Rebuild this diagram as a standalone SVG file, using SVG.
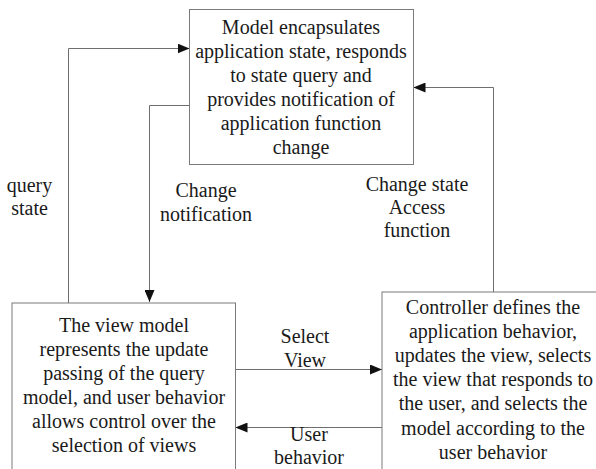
<svg xmlns="http://www.w3.org/2000/svg" width="596" height="469" viewBox="0 0 596 469" font-family="'Liberation Serif', 'Times New Roman', serif" font-size="20">
<style>
.box{fill:#fff;stroke:#7a7a7a;stroke-width:1}
.ln{fill:none;stroke:#6e6e6e;stroke-width:1}
.tx{fill:#1a1a1a;text-anchor:middle}
</style>
<defs>
<marker id="ah" viewBox="0 0 12 10" refX="12" refY="5" markerWidth="12" markerHeight="10" markerUnits="userSpaceOnUse" orient="auto">
<path d="M0,0 L12,5 L0,10 Z" fill="#111"/>
</marker>
</defs>
<rect width="596" height="469" fill="#fff"/>
<g id="connectors">
<path class="ln" d="M68.5,303 V48.5 H189.5" marker-end="url(#ah)"/>
<path class="ln" d="M189.5,105.5 H149.5 V302" marker-end="url(#ah)"/>
<path class="ln" d="M493.5,292 V87.5 H413.5" marker-end="url(#ah)"/>
<path class="ln" d="M235.5,369.5 H382" marker-end="url(#ah)"/>
<path class="ln" d="M382,427.5 H235.5" marker-end="url(#ah)"/>
<g class="tx">
<text x="29.5" y="192">query</text>
<text x="29.5" y="215">state</text>
<text x="206" y="197">Change</text>
<text x="206" y="221">notification</text>
<text x="417" y="191">Change state</text>
<text x="417" y="214">Access</text>
<text x="417" y="237">function</text>
<text x="305" y="343">Select</text>
<text x="305" y="367">View</text>
<text x="309" y="441">User</text>
<text x="309" y="464">behavior</text>
</g>
</g>
<g id="model">
<rect class="box" x="189.5" y="9.5" width="224" height="155"/>
<g class="tx">
<text x="301" y="34">Model encapsulates</text>
<text x="301" y="58">application state, responds</text>
<text x="301" y="82">to state query and</text>
<text x="301" y="106">provides notification of</text>
<text x="301" y="130">application function</text>
<text x="301" y="154">change</text>
</g>
</g>
<g id="view">
<rect class="box" x="12" y="303" width="223.5" height="180"/>
<g class="tx">
<text x="124" y="332">The view model</text>
<text x="124" y="356">represents the update</text>
<text x="124" y="380">passing of the query</text>
<text x="124" y="404">model, and user behavior</text>
<text x="124" y="428">allows control over the</text>
<text x="124" y="452">selection of views</text>
</g>
</g>
<g id="controller">
<rect class="box" x="382" y="292" width="230" height="190"/>
<g class="tx">
<text x="493" y="314">Controller defines the</text>
<text x="493" y="338">application behavior,</text>
<text x="493" y="362">updates the view, selects</text>
<text x="493" y="386">the view that responds to</text>
<text x="493" y="410">the user, and selects the</text>
<text x="493" y="435">model according to the</text>
<text x="493" y="459">user behavior</text>
</g>
</g>
</svg>
